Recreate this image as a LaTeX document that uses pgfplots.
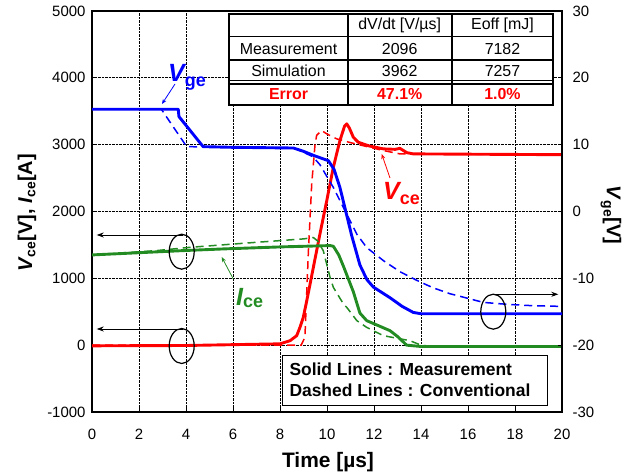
\documentclass[border=0pt]{standalone}
\usepackage{fontspec}
\setmainfont{Liberation Sans}
\usepackage{pgfplots}
\pgfplotsset{compat=1.18}
\usetikzlibrary{arrows.meta}
\definecolor{cblue}{RGB}{0,0,255}
\definecolor{cred}{RGB}{255,0,0}
\definecolor{cgreen}{RGB}{34,139,34}
\pgfplotsset{
  meas/.style={line width=2.9bp, line join=round},
  sim/.style={line width=1.5bp, dash pattern=on 8bp off 5bp},
}
\begin{document}
\begin{tikzpicture}
\path (0,0) rectangle (636bp,476bp);
\begin{axis}[
  at={(92bp,64bp)}, anchor=south west,
  scale only axis, width=470bp, height=401bp,
  xmin=0, xmax=20, ymin=-1000, ymax=5000,
  xtick={0,2,...,20}, ytick={-1000,0,...,5000},
  ytick pos=left, xtick pos=bottom,
  grid=major, grid style={black, densely dotted, line width=0.7pt},
  axis line style={black, line width=1.3pt},
  tick style={black, line width=0.8pt},
  major tick length=4bp,
  tick label style={font=\fontsize{15}{15}\selectfont},
  /pgf/number format/assume math mode=true,
  /pgf/number format/1000 sep={},
  xticklabel style={yshift=-14bp},
  yticklabel style={xshift=-3bp},
]
% Vce measurement
\addplot[meas, cred] coordinates {
(0,-10) (4,-5) (8.0,20) (8.43,67) (8.71,142) (8.85,267) (8.99,416) (9.14,666)
(9.42,1165) (9.70,1665) (9.99,2163) (10.27,2662) (10.55,3062) (10.75,3280)
(10.84,3311) (10.95,3250) (11.12,3111) (11.33,3036) (11.8,2980) (12.4,2937)
(12.9,2930) (13.1,2945) (13.4,2880) (13.67,2862) (20,2850)};
% Vce simulation
\addplot[sim, cred] coordinates {
(0,0) (8.9,0) (9.06,117) (9.21,1415) (9.35,2413) (9.49,3000) (9.56,3140)
(9.77,3211) (9.99,3162) (10.41,3087) (11.0,3030) (12.4,2912) (13.1,2862) (20,2850)};
% Ice measurement
\addplot[meas, cgreen] coordinates {
(0,1350) (3.89,1415) (5.59,1440) (8,1470) (10.13,1490) (10.27,1480) (10.5,1350)
(10.7,1180) (11.12,800) (11.4,480) (11.69,367) (12.2,290) (12.68,217) (13.0,130)
(13.39,0) (14,-20) (20,-20)};
% Ice simulation
\addplot[sim, cgreen] coordinates {
(0,1350) (2.75,1415) (4.17,1464) (7.0,1539) (9.0,1590) (9.42,1610) (9.6,1560)
(9.84,1415) (10.13,1015) (10.27,865) (10.7,616) (10.84,566) (11.27,367)
(11.69,266) (12.11,192) (12.4,142) (13.53,67) (14.0,0) (14.5,-20) (20,-20)};
\end{axis}
\begin{axis}[
  at={(92bp,64bp)}, anchor=south west,
  scale only axis, width=470bp, height=401bp,
  xmin=0, xmax=20, ymin=-30, ymax=30,
  ytick={-30,-20,...,30},
  axis y line*=right, axis x line=none,
  axis line style={black, line width=1.3pt},
  tick style={black, line width=0.8pt},
  major tick length=4bp,
  tick label style={font=\fontsize{15}{15}\selectfont},
  /pgf/number format/assume math mode=true,
  yticklabel style={xshift=7bp},
]
% Vge measurement
\addplot[meas, cblue] coordinates {
(0,15.3) (3.67,15.3) (3.70,14.2) (4.73,9.7) (6.0,9.6) (8.57,9.5) (9.0,9.0)
(9.5,8.3) (10.06,7.6) (10.3,6.3) (10.55,3.6) (10.8,0.0) (11.05,-3.6) (11.4,-8.0)
(11.7,-10.2) (11.97,-11.3) (12.68,-12.9) (13.2,-14.2) (13.67,-15.1) (14.0,-15.3)
(20,-15.3)};
% Vge simulation
\addplot[sim, cblue] coordinates {
(0,15.3) (2.95,15.3) (4.03,9.7) (8.6,9.5) (9.4,8.2) (9.7,7.0) (10.0,5.2)
(10.27,3.6) (10.84,-0.4) (11.27,-3.4) (11.69,-5.4) (12.4,-7.35) (13.1,-9.0)
(13.82,-10.3) (14.5,-11.4) (15.23,-12.3) (16.0,-13.0) (16.65,-13.6) (17.7,-13.9)
(18.78,-14.1) (20,-14.2)};
\end{axis}
\begin{scope}[x=1bp, y=-1bp, shift={(0,476bp)}]
% ellipses and arrows
\draw[line width=1.2bp] (181.7,251.7) ellipse [x radius=12.5bp, y radius=17.5bp];
\draw[line width=1.2bp] (181.7,346) ellipse [x radius=12.5bp, y radius=17.5bp];
\draw[line width=1.2bp] (493.3,311.7) ellipse [x radius=12.5bp, y radius=17.5bp];
\draw[line width=0.9bp, -{Stealth[length=7bp,width=5bp]}] (183.3,235) -- (96.7,235);
\draw[line width=0.9bp, -{Stealth[length=7bp,width=5bp]}] (183.3,329) -- (96.7,329);
\draw[line width=0.9bp, -{Stealth[length=7bp,width=5bp]}] (493.3,294.3) -- (558.3,294.3);
% curve labels
\draw[cblue, line width=0.8bp, -{Stealth[length=5bp,width=4bp]}] (175,84) -- (162,104);
\node[cblue, anchor=base west, inner sep=0pt] at (168,82) {\fontsize{25}{25}\selectfont\bfseries\itshape V\raisebox{-5bp}{\fontsize{18}{18}\selectfont\upshape ge}};
\draw[cred, line width=0.8bp, -{Stealth[length=5bp,width=4bp]}] (390,178) -- (381.7,154);
\node[cred, anchor=base west, inner sep=0pt] at (383,200) {\fontsize{25}{25}\selectfont\bfseries\itshape V\raisebox{-5bp}{\fontsize{18}{18}\selectfont\upshape ce}};
\draw[cgreen, line width=0.8bp, -{Stealth[length=5bp,width=4bp]}] (233.3,279) -- (221.7,257);
\node[cgreen, anchor=base west, inner sep=0pt] at (236,306) {\fontsize{25}{25}\selectfont\bfseries\itshape I\raisebox{-2bp}{\fontsize{18}{18}\selectfont\upshape ce}};
% table
\fill[white] (229.3,14.3) rectangle (553.3,105);
\draw[line width=1.4bp] (229.3,36.7) -- (553.3,36.7) (229.3,60) -- (553.3,60)
  (229.3,80.5) -- (553.3,80.5) (229.3,84) -- (553.3,84);
\draw[line width=2.2bp] (347.7,14.3) -- (347.7,105) (451.7,14.3) -- (451.7,105);
\draw[line width=2.2bp] (229.3,14.3) rectangle (553.3,105);
\begin{scope}[every node/.style={anchor=base, inner sep=0pt, font=\fontsize{16}{16}\selectfont}]
\node at (399.7,30) {dV/dt [V/µs]};
\node at (502.5,30) {Eoff [mJ]};
\node at (288.5,54.3) {Measurement};
\node at (399.7,54.3) {2096};
\node at (502.5,54.3) {7182};
\node at (288.5,76.7) {Simulation};
\node at (399.7,76.7) {3962};
\node at (502.5,76.7) {7257};
\node[cred, font=\fontsize{16}{16}\selectfont\bfseries] at (288.5,100) {Error};
\node[cred, font=\fontsize{16}{16}\selectfont\bfseries] at (399.7,100) {47.1\%};
\node[cred, font=\fontsize{16}{16}\selectfont\bfseries] at (502.5,100) {1.0\%};
\end{scope}
% legend box
\filldraw[fill=white, draw=black, line width=0.8bp] (282.7,355) rectangle (547.5,405);
\node[anchor=base west, inner sep=0pt, font=\fontsize{17.5}{17.5}\selectfont\bfseries] at (289.3,376) {Solid Lines : Measurement};
\node[anchor=base west, inner sep=0pt, font=\fontsize{17.5}{17.5}\selectfont\bfseries] at (289.3,396.7) {Dashed Lines : Conventional};
% axis labels
\node[font=\fontsize{21}{21}\selectfont\bfseries] at (328,462) {Time [µs]};
\node[rotate=90, font=\fontsize{20}{20}\selectfont\bfseries] at (27,213) {\textit{V}\textsubscript{ce}[V], \textit{I}\textsubscript{ce}[A]};
\node[rotate=-90, font=\fontsize{20}{20}\selectfont\bfseries] at (611,215) {\textit{V}\textsubscript{ge}[V]};
\end{scope}
\end{tikzpicture}
\end{document}
